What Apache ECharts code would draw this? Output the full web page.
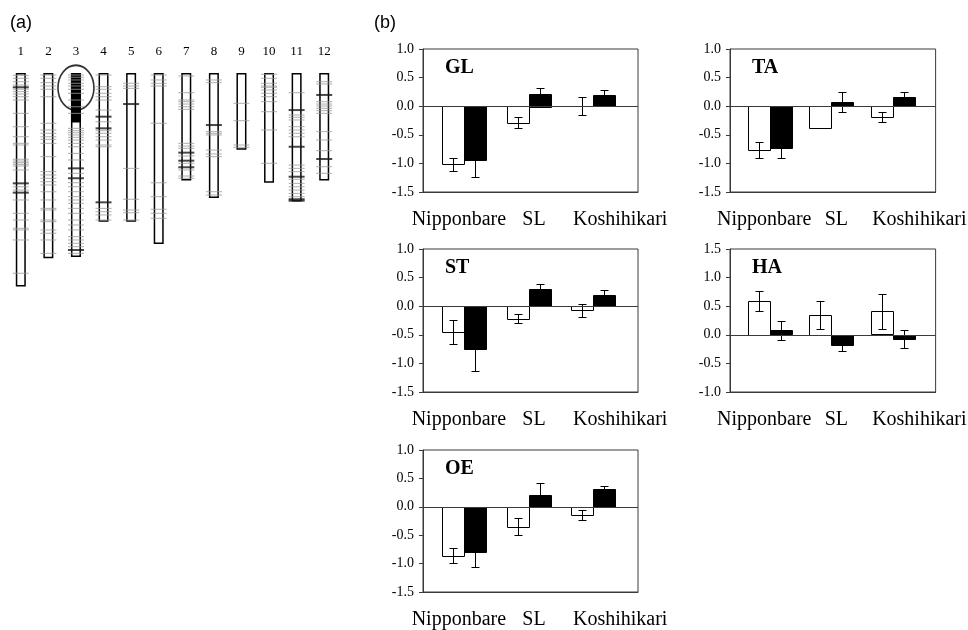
<!DOCTYPE html>
<html>
<head>
<meta charset="utf-8">
<script src="https://cdn.jsdelivr.net/npm/echarts@6/dist/echarts.min.js"></script>
<style>
  html, body { margin: 0; padding: 0; background: #fff; }
  #chart { width: 968px; height: 630px; }
</style>
</head>
<body>
<div id="chart"></div>
<script>
// ---------- (a) linkage map: chromosome lengths (cM) and marker positions ----------
const chromosomes = ['1', '2', '3', '4', '5', '6', '7', '8', '9', '10', '11', '12'];
const chrLength = [181, 157, 156, 126, 126, 145, 91, 106, 65, 93, 109, 91];
// donor segment on chromosome 3 (from the top of the chromosome)
const introgression = [null, null, 42, null, null, null, null, null, null, null, null, null];
const regionOfInterest = [[2, 12.5]];

const markersChr1 = [2, 4.5, 7.4, 10.2, 13.8, 15.8, 17.8, 20.1, 22.9, 34.2, 45.5, 54, 59.6, 61, 73.1, 74.6, 76, 77.4, 78.8, 82.2, 96.4, 99.2, 107.6, 118.9, 124.6, 131.6, 133, 141.5, 169.7];
const markersChr2 = [1.7, 4.5, 8.2, 11, 13.8, 20.1, 42.6, 48.3, 51.1, 54, 56.2, 59.6, 70.9, 83.6, 86.4, 89.2, 92.1, 94.9, 100.6, 107.6, 114.7, 116.1, 124.6, 126, 133, 135.8, 141.5, 152.8];
const markersChr3 = [1.7, 3.6, 5.9, 8.7, 11, 13.8, 17.2, 22.9, 28.6, 34.2, 46.9, 48.9, 50.6, 52.5, 54.5, 56.8, 59.6, 62.5, 68.1, 73.7, 85, 93, 96.4, 100.6, 104.8, 107.6, 110.4, 114.7, 118.9, 124.6, 128.8, 133, 138.7, 141.5, 144.3, 147.2, 152.8];
const markersChr4 = [1.7, 11.6, 13.8, 17.2, 20.1, 22.9, 31.4, 41.3, 48.9, 51.1, 54, 56.8, 61, 62.5, 114.7, 117.5, 120.3, 124.6];
const markersChr5 = [8.7, 11, 13, 80.8, 107, 116.1, 118.4, 124.6];
const markersChr6 = [1.7, 5.9, 8.7, 11, 42.6, 93, 104.8, 115.5, 118.9, 123.1];
const markersChr7 = [2.5, 16.7, 22.9, 24.3, 26.3, 28.6, 30.8, 59.6, 61.9, 63.8, 70.3, 76.5, 82.2, 87.3, 89.2];
const markersChr8 = [5.9, 8.2, 49.7, 51.1, 52.5, 65.3, 68.6, 70.9, 100.6, 103.4];
const markersChr9 = [25.7, 40.4, 61, 63];
const markersChr10 = [1.1, 4.5, 8.7, 11, 12.1, 14.4, 17.2, 20.1, 24.3, 32.8, 48.3, 76.5];
const markersChr11 = [16.7, 35.6, 37.5, 39.8, 45.5, 48.3, 51.1, 54, 78, 80.8, 83.6, 90.1, 93.5, 96.4, 99.2, 102, 104.8];
const markersChr12 = [7.4, 9.3, 24.3, 26.3, 28, 29.9, 31.9, 34.2, 49.7, 56.8, 65.8, 79.4, 85];

const boldChr1 = [12.1, 93.5, 101.4];
const boldChr3 = [80.8, 89.2, 150];
const boldChr4 = [37, 46.9, 109.6];
const boldChr5 = [26.3];
const boldChr7 = [67.5, 74.3, 79.9];
const boldChr8 = [44.1];
const boldChr11 = [31.4, 62.5, 87.9, 107, 108.2];
const boldChr12 = [18.6, 72.9];

const markerLists = [markersChr1, markersChr2, markersChr3, markersChr4, markersChr5, markersChr6,
                     markersChr7, markersChr8, markersChr9, markersChr10, markersChr11, markersChr12];
const boldLists = [boldChr1, [], boldChr3, boldChr4, boldChr5, [], boldChr7, boldChr8, [], [], boldChr11, boldChr12];

// ---------- (b) trait values (white = first set, black = second set) ----------
const cultivars = ['Nipponbare', 'SL', 'Koshihikari'];

const glWhite = [-1.02, -0.29, 0.0];
const glWhiteErr = [0.12, 0.095, 0.16];
const glBlack = [-0.95, 0.22, 0.19];
const glBlackErr = [0.28, 0.10, 0.09];

const taWhite = [-0.77, -0.38, -0.19];
const taWhiteErr = [0.14, 0, 0.08];
const taBlack = [-0.73, 0.07, 0.16];
const taBlackErr = [0.18, 0.18, 0.08];

const stWhite = [-0.45, -0.22, -0.07];
const stWhiteErr = [0.21, 0.08, 0.115];
const stBlack = [-0.76, 0.305, 0.195];
const stBlackErr = [0.38, 0.075, 0.08];

const haWhite = [0.59, 0.345, 0.41];
const haWhiteErr = [0.18, 0.24, 0.305];
const haBlack = [0.076, -0.175, -0.076];
const haBlackErr = [0.165, 0.105, 0.155];

const oeWhite = [-0.854, -0.345, -0.146];
const oeWhiteErr = [0.13, 0.15, 0.082];
const oeBlack = [-0.80, 0.205, 0.32];
const oeBlackErr = [0.26, 0.215, 0.045];

const yRangeDefault = [-1.5, 1.0];
const yRangeHA = [-1.0, 1.5];

const panels = [
  { name: 'GL', white: glWhite, whiteErr: glWhiteErr, black: glBlack, blackErr: glBlackErr, range: yRangeDefault, box: { left: 423, top: 49 } },
  { name: 'TA', white: taWhite, whiteErr: taWhiteErr, black: taBlack, blackErr: taBlackErr, range: yRangeDefault, box: { left: 730, top: 49 } },
  { name: 'ST', white: stWhite, whiteErr: stWhiteErr, black: stBlack, blackErr: stBlackErr, range: yRangeDefault, box: { left: 423, top: 249 } },
  { name: 'HA', white: haWhite, whiteErr: haWhiteErr, black: haBlack, blackErr: haBlackErr, range: yRangeHA, box: { left: 730, top: 249 } },
  { name: 'OE', white: oeWhite, whiteErr: oeWhiteErr, black: oeBlack, blackErr: oeBlackErr, range: yRangeDefault, box: { left: 423, top: 450 } }
];

const SERIF = '"Liberation Serif", "Times New Roman", serif';
const SANS = '"Liberation Sans", Arial, sans-serif';
const FRAME = '#3a3a3a';
const BAR_W = 22;
const PANEL_W = 215, PANEL_H = 143;
// horizontal extent of the cultivar positions (index units) inside each panel
const groupAxisMin = -0.64, groupAxisMax = 2.69;

function errorBarRenderer(offset) {
  return function (params, api) {
    const e = api.value(2);
    if (!e) return { type: 'group', children: [] };
    const x = api.value(0), v = api.value(1);
    const hi = api.coord([x, v + e]);
    const lo = api.coord([x, v - e]);
    const cx = Math.round(hi[0] + offset) + 0.5;
    const y1 = Math.round(hi[1]) + 0.5, y2 = Math.round(lo[1]) + 0.5;
    const hw = 4;
    const st = { stroke: '#000', lineWidth: 1 };
    return {
      type: 'group',
      children: [
        { type: 'line', shape: { x1: cx, y1: y1, x2: cx, y2: y2 }, style: st },
        { type: 'line', shape: { x1: cx - hw, y1: y1, x2: cx + hw, y2: y1 }, style: st },
        { type: 'line', shape: { x1: cx - hw, y1: y2, x2: cx + hw, y2: y2 }, style: st }
      ]
    };
  };
}

function barRenderer(offset, fill) {
  return function (params, api) {
    const x = api.value(0), v = api.value(1);
    const base = api.coord([x, 0]);
    const top = api.coord([x, v]);
    const left = Math.round(base[0] + offset - BAR_W / 2) + 0.5;
    const y0 = Math.round(Math.min(base[1], top[1])) + 0.5;
    const h = Math.round(Math.abs(top[1] - base[1]));
    return {
      type: 'rect',
      shape: { x: left, y: y0, width: BAR_W, height: h },
      style: { fill: fill, stroke: '#000', lineWidth: 1 }
    };
  };
}

const grid = [{ left: 7, top: 73, width: 331, height: 236, show: false }];
const xAxis = [{
  type: 'category', gridIndex: 0, data: chromosomes, position: 'top',
  axisLine: { show: false }, axisTick: { show: false },
  axisLabel: { fontFamily: SERIF, fontSize: 13, color: '#000', margin: 15 }
}];
const yAxis = [{ type: 'value', gridIndex: 0, inverse: true, min: 0, max: 200, show: false }];

const markerData = [];
markerLists.forEach((list, i) => list.forEach(p => markerData.push([i, p])));
const boldData = [];
boldLists.forEach((list, i) => list.forEach(p => boldData.push([i, p])));

const series = [
  {
    type: 'bar', xAxisIndex: 0, yAxisIndex: 0, data: chrLength, barWidth: 10,
    itemStyle: { color: '#fff', borderColor: '#000', borderWidth: 1.5 }, silent: true, z: 2
  },
  {
    type: 'bar', xAxisIndex: 0, yAxisIndex: 0, data: introgression, barWidth: 10, barGap: '-100%',
    itemStyle: { color: '#000', borderColor: '#000', borderWidth: 1.5 }, silent: true, z: 3
  },
  {
    type: 'scatter', xAxisIndex: 0, yAxisIndex: 0, data: markerData, symbol: 'rect', symbolSize: [16, 1],
    itemStyle: { color: '#9a9a9a' }, silent: true, z: 4
  },
  {
    type: 'scatter', xAxisIndex: 0, yAxisIndex: 0, data: boldData, symbol: 'rect', symbolSize: [16, 2],
    itemStyle: { color: '#1a1a1a' }, silent: true, z: 5
  },
  {
    type: 'scatter', xAxisIndex: 0, yAxisIndex: 0, data: regionOfInterest, symbol: 'circle', symbolSize: [36, 45],
    itemStyle: { color: 'rgba(0,0,0,0)', borderColor: '#000', borderWidth: 1.8 }, silent: true, z: 6
  }
];

const titles = [
  { text: '(a)', left: 10, top: 14, padding: 0, textStyle: { fontFamily: SANS, fontSize: 18, fontWeight: 'normal', color: '#000' } },
  { text: '(b)', left: 374, top: 14, padding: 0, textStyle: { fontFamily: SANS, fontSize: 18, fontWeight: 'normal', color: '#000' } }
];

panels.forEach((p, k) => {
  const gi = k + 1;
  grid.push({ left: p.box.left, top: p.box.top, width: PANEL_W, height: PANEL_H, show: true, borderColor: FRAME, borderWidth: 1, backgroundColor: 'rgba(0,0,0,0)' });
  const labelAxis = xAxis.length;
  // cultivar names along the bottom of the frame
  xAxis.push({
    type: 'category', gridIndex: gi, data: cultivars, position: 'bottom',
    axisLine: { show: true, onZero: false, lineStyle: { color: FRAME, width: 1 } },
    axisTick: { show: false },
    axisLabel: {
      fontFamily: SERIF, fontSize: 20, color: '#000', margin: 18, interval: 0,
      formatter: v => (v === 'Koshihikari' ? '{wide|' + v + '}' : v === 'SL' ? '{sl|' + v + '}' : v),
      rich: {
        wide: { fontFamily: SERIF, fontSize: 20, color: '#000', padding: [0, 0, 0, 36] },
        sl: { fontFamily: SERIF, fontSize: 20, color: '#000', padding: [0, 0, 0, 7] }
      }
    }
  });
  // cultivar index axis that positions the bar pairs
  const dataAxis = xAxis.length;
  xAxis.push({
    type: 'value', gridIndex: gi, min: groupAxisMin, max: groupAxisMax, show: false,
    axisLine: { onZero: false }
  });
  yAxis.push({
    type: 'value', gridIndex: gi, min: p.range[0], max: p.range[1], interval: 0.5,
    axisLine: { show: true, onZero: false, lineStyle: { color: FRAME, width: 1 } },
    axisTick: { show: true, length: 4, inside: false, lineStyle: { color: FRAME } },
    splitLine: { show: false },
    axisLabel: { fontFamily: SERIF, fontSize: 14, color: '#000', margin: 9, formatter: v => v.toFixed(1) }
  });
  const yi = yAxis.length - 1;
  series.push({
    type: 'line', xAxisIndex: labelAxis, yAxisIndex: yi, data: [], silent: true,
    markLine: {
      silent: true, symbol: 'none', label: { show: false },
      lineStyle: { color: FRAME, width: 1, type: 'solid' },
      data: [{ yAxis: 0 }]
    }
  });
  series.push({
    type: 'custom', name: p.name + ' white', xAxisIndex: dataAxis, yAxisIndex: yi, silent: true, z: 3,
    renderItem: barRenderer(-BAR_W / 2, '#fff'),
    data: p.white.map((v, i) => [i, v])
  });
  series.push({
    type: 'custom', name: p.name + ' black', xAxisIndex: dataAxis, yAxisIndex: yi, silent: true, z: 3,
    renderItem: barRenderer(BAR_W / 2, '#000'),
    data: p.black.map((v, i) => [i, v])
  });
  series.push({
    type: 'custom', xAxisIndex: dataAxis, yAxisIndex: yi, silent: true, z: 4,
    renderItem: errorBarRenderer(-BAR_W / 2),
    data: p.white.map((v, i) => [i, v, p.whiteErr[i]])
  });
  series.push({
    type: 'custom', xAxisIndex: dataAxis, yAxisIndex: yi, silent: true, z: 4,
    renderItem: errorBarRenderer(BAR_W / 2),
    data: p.black.map((v, i) => [i, v, p.blackErr[i]])
  });
  titles.push({
    text: p.name, left: p.box.left + 22, top: p.box.top + 9, padding: 0,
    textStyle: { fontFamily: SERIF, fontSize: 20, fontWeight: 'bold', color: '#000' }
  });
});

const chart = echarts.init(document.getElementById('chart'), null, { renderer: 'canvas' });
chart.setOption({
  animation: false,
  backgroundColor: '#fff',
  title: titles,
  grid: grid,
  xAxis: xAxis,
  yAxis: yAxis,
  series: series
});
</script>
</body>
</html>
